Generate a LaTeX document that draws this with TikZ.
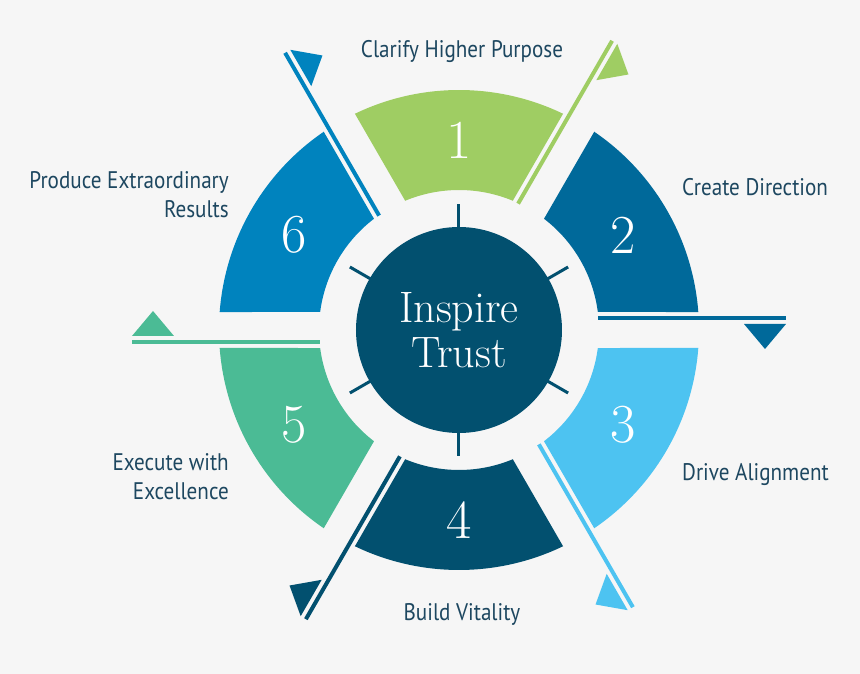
\documentclass[tikz,border=0pt]{standalone}
\usepackage{fontspec}
\setsansfont[FakeStretch=0.88]{PT Sans}
\usetikzlibrary{positioning}

\definecolor{bgcol}{HTML}{F6F6F6}
\definecolor{segA}{HTML}{9FCD63}
\definecolor{segB}{HTML}{00699A}
\definecolor{segC}{HTML}{4DC3F1}
\definecolor{segD}{HTML}{02506F}
\definecolor{segE}{HTML}{4BBB95}
\definecolor{segF}{HTML}{0083BE}
\definecolor{textcol}{HTML}{1D4760}

\begin{document}
\begin{tikzpicture}[
			x=1pt, y=1pt,
			num/.style={text=white, font=\fontsize{55}{55}\selectfont},
			core/.style={circle, fill=segD, minimum size=206pt, inner sep=0pt, text=white, align=center, font=\fontsize{44}{45}\selectfont},
			tick/.style={segD, line width=3pt},
			lbl/.style={text=textcol, inner sep=0pt, font=\sffamily\fontsize{24}{29}\selectfont}
			]
			\useasboundingbox[fill=bgcol] (-459,-344) rectangle (401,330);
			% segments, flags and numbers
			\foreach \i/\col in {1/segA, 2/segB, 3/segC, 4/segD, 5/segE, 6/segF} {
				\pgfmathsetmacro{\mid}{90-60*(\i-1)}
				\fill[\col] (\mid-25.7:240) arc[start angle=\mid-25.7, end angle=\mid+25.7, radius=240]
					-- (\mid+22.61:140) arc[start angle=\mid+22.61, end angle=\mid-22.61, radius=140] -- cycle;
				\node[num] (n\i) at (\mid:190) {\i};
				\begin{scope}[rotate=\mid-30]
					\fill[\col] (139,10) rectangle (327,14);
					\fill[\col] (285,6) -- (327,6) -- (306,-19) -- cycle;
				\end{scope}
			}
			\foreach \a in {30,90,...,330}
				\draw[tick] (\a:101) -- (\a:126);
			\node[core] (trust) at (0,0) {Inspire\\Trust};
			% labels
			\node[lbl] (clarify) at (3,278) {Clarify Higher Purpose};
			\node[lbl, anchor=west] (create) at (223,143) {Create Direction};
			\node[lbl, anchor=west] (drive) at (223,-145) {Drive Alignment};
			\node[lbl] (build) at (3,-284) {Build Vitality};
			\node[lbl, anchor=east, align=right] (produce) at (-230,135) {Produce Extraordinary\\Results};
			\node[lbl, anchor=east, align=right] (execute) at (-230,-147) {Execute with\\Excellence};
		\end{tikzpicture}
\end{document}
